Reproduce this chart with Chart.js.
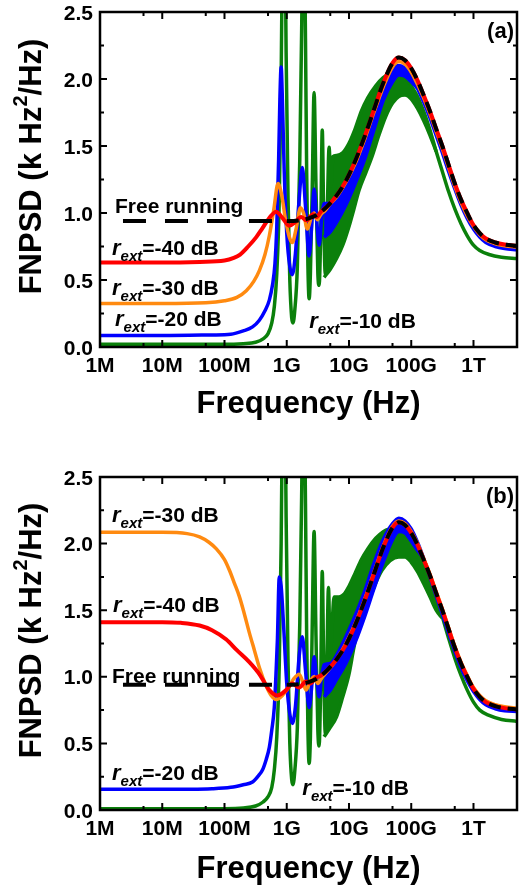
<!DOCTYPE html>
<html>
<head>
<meta charset="utf-8">
<script src="https://cdn.jsdelivr.net/npm/chart.js@4.4.0/dist/chart.umd.min.js"></script>
<style>
  html, body { margin: 0; padding: 0; background: #fff; }
  #wrap { position: relative; width: 519px; height: 891px; }
  canvas { position: absolute; left: 0; }
  #chartA { top: 0; }
  #chartB { top: 440px; }
</style>
</head>
<body>
<div id="wrap">
  <canvas id="chartA" width="519" height="440"></canvas>
  <canvas id="chartB" width="519" height="451"></canvas>
</div>
<script>
// axis ticks
const xTickValues = [1e6, 1e7, 1e8, 1e9, 1e10, 1e11, 1e12];
const xTickLabels = ['1M', '10M', '100M', '1G', '10G', '100G', '1T'];
const xMinorValues = [5e6, 5e7, 5e8, 5e9, 5e10, 5e11];
const yTickValues = [0, 0.5, 1.0, 1.5, 2.0, 2.5];
const yTickLabels = ['0.0', '0.5', '1.0', '1.5', '2.0', '2.5'];
const yMinorValues = [0.25, 0.75, 1.25, 1.75, 2.25];

// free running (same in both panels)
const freeFreq = [2.34e6, 1e7, 1e8, 1e9, 1.58e9, 2.24e9, 3.16e9, 4.47e9, 6.31e9, 8.91e9, 1.26e10, 1.78e10, 2.51e10, 3.55e10, 5.01e10, 6.31e10, 7.94e10, 1e11, 1.26e11, 1.58e11, 2e11, 2.51e11, 3.16e11, 3.98e11, 5.01e11, 6.31e11, 7.94e11, 1e12, 1.26e12, 1.58e12, 2.24e12, 3.16e12, 5.01e12];
const freeVal = [0.94, 0.94, 0.94, 0.94, 0.945, 0.96, 0.99, 1.05, 1.13, 1.24, 1.39, 1.57, 1.77, 1.97, 2.12, 2.16, 2.14, 2.08, 1.99, 1.88, 1.76, 1.63, 1.50, 1.36, 1.22, 1.10, 1.00, 0.91, 0.85, 0.81, 0.78, 0.765, 0.755];

// ---- panel (a) ----
const redAFreq = [1e6, 1e7, 3.98e7, 1e8, 1.41e8, 1.78e8, 2.4e8, 3.24e8, 3.98e8, 4.68e8, 5.62e8, 6.76e8, 8.32e8, 1.1e9, 1.35e9, 1.7e9, 2.09e9, 2.63e9, 3.02e9, 3.55e9, 4.47e9, 6.31e9, 8.91e9, 1.26e10, 1.78e10, 2.51e10, 3.55e10, 5.01e10, 6.31e10, 7.94e10, 1e11, 1.26e11, 1.58e11, 2e11, 2.51e11, 3.16e11, 3.98e11, 5.01e11, 6.31e11, 7.94e11, 1e12, 1.26e12, 1.58e12, 2.24e12, 3.16e12, 5.01e12];
const redAVal = [0.63, 0.63, 0.635, 0.645, 0.665, 0.69, 0.75, 0.82, 0.88, 0.93, 0.98, 1.01, 0.97, 0.905, 0.93, 0.97, 0.945, 0.99, 0.97, 1.01, 1.05, 1.13, 1.24, 1.39, 1.57, 1.77, 1.97, 2.12, 2.16, 2.14, 2.08, 1.99, 1.88, 1.76, 1.63, 1.50, 1.36, 1.22, 1.10, 1.00, 0.91, 0.85, 0.81, 0.78, 0.765, 0.755];

const orangeAFreq = [1e6, 1e7, 5.01e7, 1e8, 1.58e8, 2.24e8, 2.95e8, 3.63e8, 4.47e8, 5.25e8, 6.17e8, 7.24e8, 8.32e8, 9.55e8, 1.1e9, 1.23e9, 1.41e9, 1.66e9, 1.86e9, 2.14e9, 2.45e9, 2.75e9, 3.09e9, 3.55e9, 4.17e9, 5.01e9, 6.31e9, 8.91e9, 1.26e10, 1.78e10, 2.51e10, 3.55e10, 5.01e10, 6.31e10, 7.94e10, 1e11, 1.26e11, 1.58e11, 2e11, 2.51e11, 3.16e11, 3.98e11, 5.01e11, 6.31e11, 7.94e11, 1e12, 1.26e12, 1.58e12, 2.24e12, 3.16e12, 5.01e12];
const orangeAVal = [0.325, 0.325, 0.33, 0.345, 0.37, 0.42, 0.49, 0.57, 0.69, 0.83, 1.02, 1.22, 1.13, 0.95, 0.82, 0.78, 0.88, 1.04, 1.0, 0.88, 0.96, 1.0, 0.95, 0.99, 1.02, 1.07, 1.12, 1.23, 1.37, 1.55, 1.75, 1.94, 2.09, 2.13, 2.11, 2.05, 1.96, 1.86, 1.74, 1.61, 1.48, 1.34, 1.20, 1.08, 0.98, 0.90, 0.84, 0.80, 0.77, 0.755, 0.745];

const blueAFreq = [1e6, 1e7, 6.31e7, 1.26e8, 2e8, 2.82e8, 3.63e8, 4.47e8, 5.25e8, 5.89e8, 6.46e8, 6.92e8, 7.41e8, 7.76e8, 8.13e8, 8.51e8, 9.12e8, 1e9, 1.12e9, 1.23e9, 1.38e9, 1.58e9, 1.78e9, 2e9, 2.29e9, 2.51e9, 2.75e9, 3.02e9, 3.31e9, 3.63e9, 3.98e9, 5.01e9, 6.31e9, 8.91e9, 1.26e10, 1.78e10, 2.51e10, 3.55e10, 5.01e10, 6.31e10, 7.94e10, 1e11, 1.26e11, 1.58e11, 2e11, 2.51e11, 3.16e11, 3.98e11, 5.01e11, 6.31e11, 7.94e11, 1e12, 1.26e12, 1.58e12, 2.24e12, 3.16e12, 5.01e12];
const blueAVal = [0.085, 0.085, 0.09, 0.095, 0.12, 0.15, 0.20, 0.27, 0.35, 0.46, 0.62, 0.9, 1.4, 1.85, 2.09, 1.85, 1.3, 0.85, 0.6, 0.54, 0.7, 1.1, 1.34, 1.05, 0.68, 0.9, 1.18, 0.95, 0.76, 0.95, 1.07, 1.07, 1.12, 1.22, 1.36, 1.53, 1.73, 1.92, 2.07, 2.10, 2.08, 2.02, 1.93, 1.83, 1.71, 1.58, 1.45, 1.31, 1.18, 1.06, 0.96, 0.88, 0.82, 0.78, 0.75, 0.735, 0.725];
const blueALowFreq = [3.98e9, 5.01e9, 6.31e9, 8.91e9, 1.26e10, 1.78e10, 2.51e10, 3.55e10, 5.01e10, 6.31e10, 7.94e10, 1e11, 1.26e11];
const blueALowVal = [0.82, 0.86, 0.93, 1.06, 1.22, 1.40, 1.62, 1.84, 1.98, 2.03, 2.02, 1.98, 1.93];

const greenAFreq = [1e6, 1e7, 1e8, 2e8, 3.16e8, 4.17e8, 5.01e8, 5.75e8, 6.31e8, 6.92e8, 7.59e8, 8.13e8, 8.61e8, 8.91e8, 9.33e8, 9.77e8, 1.05e9, 1.12e9, 1.2e9, 1.26e9, 1.35e9, 1.48e9, 1.62e9, 1.74e9, 1.86e9, 2e9, 2.09e9, 2.19e9, 2.29e9, 2.4e9, 2.57e9, 2.75e9, 2.95e9, 3.16e9, 3.31e9, 3.51e9, 3.72e9, 3.94e9, 4.17e9, 4.47e9, 4.79e9, 5.13e9, 5.5e9, 6.31e9, 7.94e9, 1e10, 1.26e10, 1.58e10, 2e10, 2.69e10, 3.55e10, 4.47e10, 6.31e10, 7.94e10, 1e11, 1.26e11, 1.58e11, 2e11, 2.51e11, 3.16e11, 3.98e11, 5.01e11, 6.31e11, 7.94e11, 1e12, 1.26e12, 1.78e12, 2.82e12, 5.01e12];
const greenAVal = [0.02, 0.02, 0.02, 0.025, 0.035, 0.06, 0.10, 0.18, 0.30, 0.55, 1.1, 2.0, 3.2, 3.6, 3.2, 2.2, 1.1, 0.5, 0.22, 0.18, 0.28, 0.6, 1.4, 2.4, 3.5, 2.3, 1.3, 0.6, 0.36, 0.55, 1.2, 1.9, 1.2, 0.55, 0.46, 0.85, 1.62, 0.9, 0.54, 1.0, 1.49, 1.2, 1.42, 1.43, 1.45, 1.52, 1.63, 1.76, 1.86, 1.95, 2.01, 2.04, 2.05, 2.02, 1.95, 1.87, 1.76, 1.62, 1.46, 1.31, 1.16, 1.03, 0.92, 0.83, 0.76, 0.72, 0.69, 0.67, 0.66];
const greenALowFreq = [3.98e9, 5.01e9, 6.31e9, 7.94e9, 1e10, 1.2e10, 1.45e10, 1.86e10, 2.34e10, 3.02e10, 3.89e10, 5.01e10, 6.31e10, 7.94e10, 1e11, 1.26e11, 1.58e11, 2e11, 2.51e11];
const greenALowVal = [0.52, 0.58, 0.66, 0.76, 0.90, 1.03, 1.17, 1.30, 1.42, 1.58, 1.72, 1.82, 1.87, 1.88, 1.85, 1.78, 1.69, 1.58, 1.46];

// ---- panel (b) ----
const redBFreq = [1e6, 1e7, 2e7, 3.98e7, 6.31e7, 1.07e8, 1.58e8, 2.51e8, 3.63e8, 4.47e8, 5.25e8, 7.08e8, 9.77e8, 1.23e9, 1.58e9, 2.04e9, 2.4e9, 2.88e9, 3.55e9, 4.47e9, 6.31e9, 8.91e9, 1.26e10, 1.78e10, 2.51e10, 3.55e10, 5.01e10, 6.31e10, 7.94e10, 1e11, 1.26e11, 1.58e11, 2e11, 2.51e11, 3.16e11, 3.98e11, 5.01e11, 6.31e11, 7.94e11, 1e12, 1.26e12, 1.58e12, 2.24e12, 3.16e12, 5.01e12];
const redBVal = [1.41, 1.41, 1.405, 1.385, 1.35, 1.28, 1.20, 1.11, 1.02, 0.95, 0.90, 0.86, 0.90, 0.95, 0.92, 0.965, 0.95, 0.99, 1.01, 1.05, 1.13, 1.24, 1.39, 1.57, 1.77, 1.97, 2.12, 2.16, 2.14, 2.08, 1.99, 1.88, 1.76, 1.63, 1.50, 1.36, 1.22, 1.10, 1.00, 0.91, 0.85, 0.81, 0.78, 0.765, 0.755];

const orangeBFreq = [1e6, 1e7, 2.51e7, 3.98e7, 5.62e7, 7.41e7, 1e8, 1.2e8, 1.45e8, 1.74e8, 2.09e8, 2.51e8, 3.02e8, 3.63e8, 4.68e8, 5.62e8, 6.76e8, 8.51e8, 1.1e9, 1.32e9, 1.58e9, 1.82e9, 2.04e9, 2.34e9, 2.75e9, 3.16e9, 3.63e9, 4.47e9, 6.31e9, 8.91e9, 1.26e10, 1.78e10, 2.51e10, 3.55e10, 5.01e10, 6.31e10, 7.94e10, 1e11, 1.26e11, 1.58e11, 2e11, 2.51e11, 3.16e11, 3.98e11, 5.01e11, 6.31e11, 7.94e11, 1e12, 1.26e12, 1.58e12, 2.24e12, 3.16e12, 5.01e12];
const orangeBVal = [2.085, 2.085, 2.075, 2.05, 2.01, 1.96, 1.88, 1.80, 1.70, 1.60, 1.47, 1.33, 1.20, 1.07, 0.93, 0.86, 0.83, 0.86, 0.93, 0.99, 1.02, 0.96, 0.90, 0.96, 1.0, 0.95, 0.99, 1.04, 1.13, 1.25, 1.40, 1.58, 1.78, 1.98, 2.13, 2.17, 2.15, 2.09, 2.0, 1.89, 1.77, 1.64, 1.51, 1.37, 1.23, 1.11, 1.01, 0.92, 0.86, 0.82, 0.79, 0.775, 0.765];

const blueBFreq = [1e6, 1e7, 6.31e7, 1.26e8, 2e8, 2.82e8, 3.55e8, 4.07e8, 4.68e8, 5.25e8, 5.75e8, 6.31e8, 6.76e8, 7.08e8, 7.59e8, 8.13e8, 8.91e8, 1e9, 1.12e9, 1.23e9, 1.38e9, 1.58e9, 1.78e9, 2e9, 2.29e9, 2.51e9, 2.75e9, 3.02e9, 3.31e9, 3.63e9, 3.98e9, 5.01e9, 6.31e9, 8.91e9, 1.26e10, 1.78e10, 2.51e10, 3.55e10, 5.01e10, 6.31e10, 7.94e10, 1e11, 1.26e11, 1.58e11, 2e11, 2.51e11, 3.16e11, 3.98e11, 5.01e11, 6.31e11, 7.94e11, 1e12, 1.26e12, 1.58e12, 2.24e12, 3.16e12, 5.01e12];
const blueBVal = [0.155, 0.155, 0.16, 0.17, 0.19, 0.21, 0.26, 0.30, 0.38, 0.47, 0.60, 0.77, 1.05, 1.28, 1.75, 1.68, 1.38, 0.95, 0.72, 0.65, 0.78, 1.15, 1.30, 1.05, 0.77, 0.92, 1.15, 0.98, 0.85, 1.0, 1.09, 1.10, 1.16, 1.30, 1.46, 1.64, 1.85, 2.03, 2.15, 2.19, 2.17, 2.11, 2.01, 1.89, 1.75, 1.61, 1.47, 1.33, 1.19, 1.07, 0.97, 0.89, 0.83, 0.79, 0.76, 0.745, 0.74];
const blueBLowFreq = [3.98e9, 5.01e9, 6.31e9, 8.91e9, 1.26e10, 1.78e10, 2.51e10, 3.55e10, 5.01e10, 6.31e10, 7.94e10, 1e11, 1.26e11, 1.58e11];
const blueBLowVal = [0.85, 0.90, 0.98, 1.10, 1.26, 1.45, 1.66, 1.86, 2.03, 2.09, 2.08, 2.02, 1.95, 1.89];

const greenBFreq = [1e6, 1e7, 1e8, 2e8, 3.16e8, 4.17e8, 5.01e8, 5.75e8, 6.31e8, 6.92e8, 7.59e8, 8.13e8, 8.61e8, 8.91e8, 9.33e8, 9.77e8, 1.05e9, 1.12e9, 1.2e9, 1.26e9, 1.35e9, 1.48e9, 1.62e9, 1.74e9, 1.86e9, 2e9, 2.09e9, 2.19e9, 2.29e9, 2.4e9, 2.57e9, 2.75e9, 2.95e9, 3.16e9, 3.31e9, 3.51e9, 3.72e9, 3.94e9, 4.17e9, 4.41e9, 4.68e9, 5.01e9, 5.37e9, 5.75e9, 6.92e9, 8.32e9, 1e10, 1.26e10, 1.58e10, 2e10, 2.69e10, 3.55e10, 4.47e10, 6.31e10, 7.94e10, 1e11, 1.26e11, 1.58e11, 2e11, 2.51e11, 3.16e11, 3.98e11, 5.01e11, 6.31e11, 7.94e11, 1e12, 1.26e12, 1.78e12, 2.82e12, 5.01e12];
const greenBVal = [0.01, 0.01, 0.01, 0.015, 0.03, 0.06, 0.10, 0.17, 0.30, 0.55, 1.1, 2.0, 3.2, 3.6, 3.2, 2.2, 1.1, 0.5, 0.23, 0.19, 0.30, 0.62, 1.4, 2.4, 3.5, 2.3, 1.3, 0.6, 0.35, 0.55, 1.4, 2.09, 1.3, 0.6, 0.48, 0.95, 1.79, 1.0, 0.57, 1.1, 1.67, 1.15, 1.4, 1.6, 1.6, 1.62, 1.68, 1.78, 1.88, 1.96, 2.04, 2.09, 2.11, 2.12, 2.10, 2.05, 1.97, 1.88, 1.76, 1.61, 1.45, 1.29, 1.14, 1.01, 0.90, 0.81, 0.75, 0.71, 0.68, 0.665];
const greenBLowFreq = [3.98e9, 5.01e9, 6.31e9, 7.94e9, 1e10, 1.2e10, 1.45e10, 2.09e10, 3.39e10, 6.31e10, 7.94e10, 1e11, 1.26e11, 1.58e11, 2e11, 2.51e11, 3.16e11];
const greenBLowVal = [0.55, 0.62, 0.70, 0.85, 1.02, 1.22, 1.40, 1.58, 1.80, 1.90, 1.90, 1.86, 1.79, 1.70, 1.60, 1.50, 1.44];

const FONT = '"Liberation Sans", Arial, Helvetica, sans-serif';
const COLORS = { free: '#000000', r40: '#ff0000', r30: '#ff8a10', r20: '#0000ff', r10: '#0b800b' };

function toPoints(freq, vals) {
  return freq.map((f, i) => ({ x: f, y: vals[i] }));
}

function curve(freq, vals, color, width, extra) {
  return Object.assign({
    data: toPoints(freq, vals),
    borderColor: color,
    backgroundColor: color,
    borderWidth: width,
    pointRadius: 0,
    fill: false,
    cubicInterpolationMode: 'monotone',
    clip: { left: 0, top: 0, right: 0, bottom: 4 }
  }, extra || {});
}

// dashed free-running line: long dashes on the flat part, short on the hump
function freeCurve() {
  return curve(freeFreq, freeVal, COLORS.free, 4, {
    borderDash: [12, 7],
    segment: { borderDash: c => (c.p1DataIndex <= 3 ? [23, 19] : [12, 7]) }
  });
}

// r_ext label with italic subscript
function drawRext(ctx, px, py, rest) {
  ctx.textAlign = 'left';
  ctx.textBaseline = 'alphabetic';
  ctx.font = 'italic bold 22px ' + FONT;
  ctx.fillText('r', px, py);
  let cx = px + ctx.measureText('r').width;
  ctx.font = 'italic bold 15px ' + FONT;
  ctx.fillText('ext', cx, py + 6);
  cx += ctx.measureText('ext').width;
  ctx.font = 'bold 21px ' + FONT;
  ctx.fillText(rest, cx, py);
}

const axesFrame = {
  id: 'axesFrame',
  afterDatasetsDraw(chart, args, opts) {
    const ctx = chart.ctx, a = chart.chartArea;
    const xs = chart.scales.x, ys = chart.scales.y;
    ctx.save();
    ctx.strokeStyle = '#000';
    ctx.fillStyle = '#000';

    // inward ticks on all four sides
    ctx.lineWidth = 2;
    ctx.beginPath();
    const vtick = (v, len) => {
      const p = xs.getPixelForValue(v);
      ctx.moveTo(p, a.bottom); ctx.lineTo(p, a.bottom - len);
      ctx.moveTo(p, a.top); ctx.lineTo(p, a.top + len);
    };
    const htick = (v, len) => {
      const p = ys.getPixelForValue(v);
      ctx.moveTo(a.left, p); ctx.lineTo(a.left + len, p);
      ctx.moveTo(a.right, p); ctx.lineTo(a.right - len, p);
    };
    xTickValues.forEach(v => vtick(v, 7));
    xMinorValues.forEach(v => vtick(v, 4));
    yTickValues.forEach(v => htick(v, 7));
    yMinorValues.forEach(v => htick(v, 4));
    ctx.stroke();

    ctx.lineWidth = 2.5;
    ctx.strokeRect(a.left, a.top, a.right - a.left, a.bottom - a.top);

    // tick labels
    ctx.font = 'bold 21px ' + FONT;
    ctx.textBaseline = 'alphabetic';
    ctx.textAlign = 'center';
    xTickValues.forEach((v, i) => ctx.fillText(xTickLabels[i], xs.getPixelForValue(v), a.bottom + 25));
    ctx.textAlign = 'right';
    yTickValues.forEach((v, i) => ctx.fillText(yTickLabels[i], a.left - 7, ys.getPixelForValue(v) + 7.5));

    // x title
    ctx.font = 'bold 31px ' + FONT;
    ctx.textAlign = 'center';
    ctx.fillText('Frequency (Hz)', (a.left + a.right) / 2, a.bottom + opts.xTitleGap);

    // y title with superscript
    ctx.save();
    ctx.translate(41, (a.top + a.bottom) / 2 - 13);
    ctx.rotate(-Math.PI / 2);
    const parts = [['FNPSD (k Hz', 'bold 31px ' + FONT, 0], ['2', 'bold 20px ' + FONT, -14], ['/Hz)', 'bold 31px ' + FONT, 0]];
    let total = 0;
    parts.forEach(p => { ctx.font = p[1]; total += ctx.measureText(p[0]).width; });
    let px = -total / 2;
    ctx.textAlign = 'left';
    parts.forEach(p => { ctx.font = p[1]; ctx.fillText(p[0], px, p[2]); px += ctx.measureText(p[0]).width; });
    ctx.restore();

    // panel tag
    ctx.font = 'bold 22px ' + FONT;
    ctx.textAlign = 'right';
    ctx.fillText(opts.tag, a.right - 3, a.top + 26);

    // curve labels
    opts.labels.forEach(l => {
      const px2 = xs.getPixelForValue(l.x), py2 = ys.getPixelForValue(l.y);
      if (l.rext) {
        drawRext(ctx, px2, py2, l.rext);
      } else {
        ctx.font = 'bold 21px ' + FONT;
        ctx.textAlign = 'left';
        ctx.fillText(l.text, px2, py2);
      }
    });
    ctx.restore();
  }
};

function makeChart(id, padTop, padBottom, datasets, frameOpts) {
  return new Chart(document.getElementById(id), {
    type: 'line',
    data: { datasets: datasets },
    options: {
      responsive: false,
      animation: false,
      devicePixelRatio: 1,
      events: [],
      layout: { padding: { left: 100, right: 2, top: padTop, bottom: padBottom } },
      scales: {
        x: { type: 'logarithmic', min: 1e6, max: 5e12, display: false },
        y: { type: 'linear', min: 0, max: 2.5, display: false }
      },
      plugins: {
        legend: { display: false },
        tooltip: { enabled: false },
        axesFrame: frameOpts
      }
    },
    plugins: [axesFrame]
  });
}

makeChart('chartA', 12, 93, [
  freeCurve(),
  curve(redAFreq, redAVal, COLORS.r40, 4),
  curve(orangeAFreq, orangeAVal, COLORS.r30, 3.5),
  curve(blueAFreq, blueAVal, COLORS.r20, 3.5),
  curve(blueALowFreq, blueALowVal, COLORS.r20, 3.5, { fill: '-1' }),
  curve(greenAFreq, greenAVal, COLORS.r10, 3.5),
  curve(greenALowFreq, greenALowVal, COLORS.r10, 3.5, { fill: '-1' })
], {
  tag: '(a)',
  xTitleGap: 66,
  labels: [
    { x: 1.74e6, y: 1.0, text: 'Free running' },
    { x: 1.56e6, y: 0.69, rext: '=-40 dB' },
    { x: 1.56e6, y: 0.388, rext: '=-30 dB' },
    { x: 1.74e6, y: 0.157, rext: '=-20 dB' },
    { x: 2.29e9, y: 0.142, rext: '=-10 dB' }
  ]
});

makeChart('chartB', 37, 81, [
  freeCurve(),
  curve(redBFreq, redBVal, COLORS.r40, 4),
  curve(orangeBFreq, orangeBVal, COLORS.r30, 3.5),
  curve(blueBFreq, blueBVal, COLORS.r20, 3.5),
  curve(blueBLowFreq, blueBLowVal, COLORS.r20, 3.5, { fill: '-1' }),
  curve(greenBFreq, greenBVal, COLORS.r10, 3.5),
  curve(greenBLowFreq, greenBLowVal, COLORS.r10, 3.5, { fill: '-1' })
], {
  tag: '(b)',
  xTitleGap: 68,
  labels: [
    { x: 1.56e6, y: 2.162, rext: '=-30 dB' },
    { x: 1.62e6, y: 1.486, rext: '=-40 dB' },
    { x: 1.56e6, y: 0.953, text: 'Free running' },
    { x: 1.56e6, y: 0.225, rext: '=-20 dB' },
    { x: 1.78e9, y: 0.113, rext: '=-10 dB' }
  ]
});
</script>
</body>
</html>
